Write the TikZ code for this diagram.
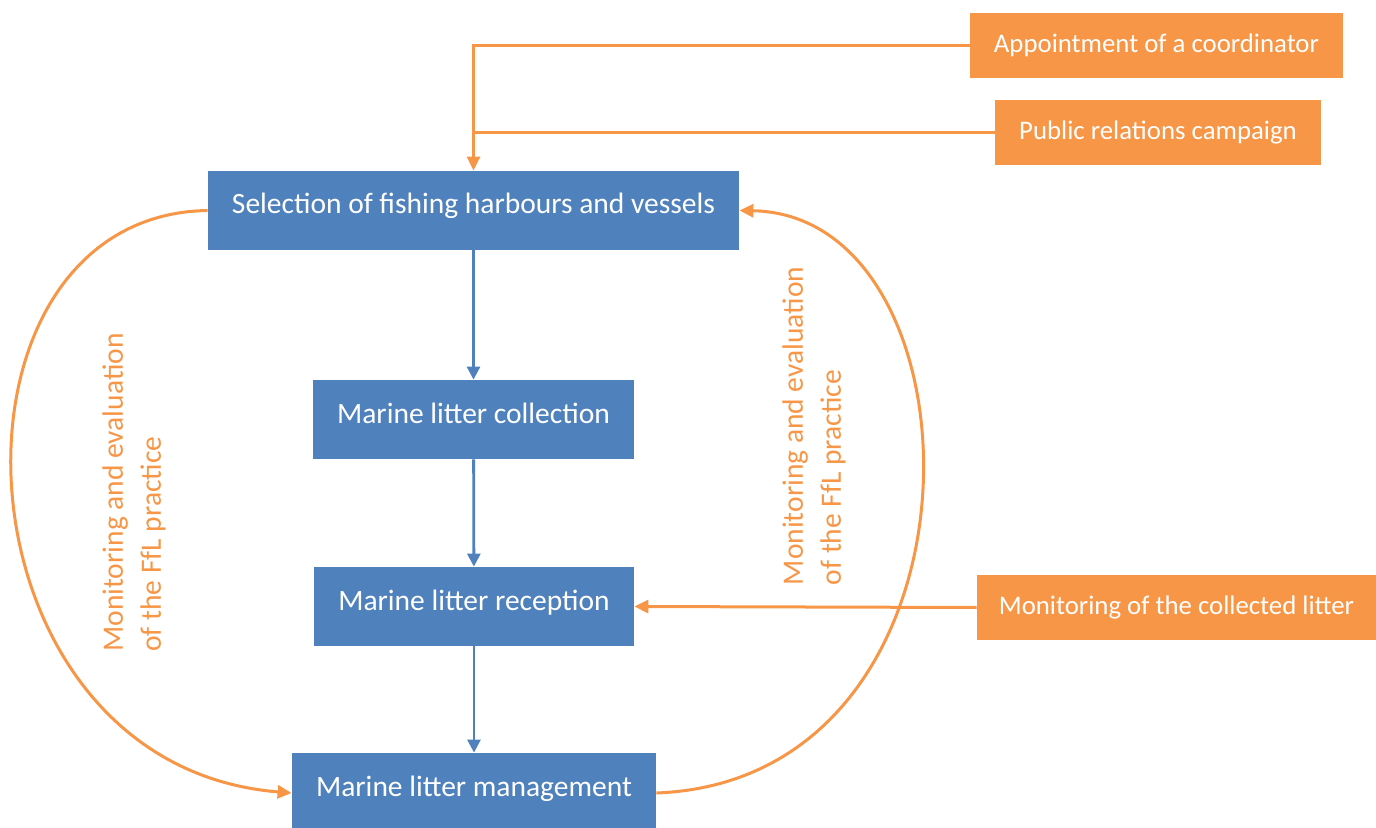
\documentclass[tikz,border=0pt]{standalone}
\usepackage{fontspec}
\setmainfont{Carlito}
\usepackage{tikz}
\usetikzlibrary{arrows.meta,positioning,calc}

\definecolor{stageblue}{HTML}{4F81BD}
\definecolor{taskorange}{HTML}{F79646}

\begin{document}
\begin{tikzpicture}[x=0.5pt, y=-0.5pt,
  every node/.style={inner sep=0pt, font=\fontsize{14.75}{19}\selectfont},
  stage/.style={fill=stageblue, text=white, minimum height=39.5pt, text height=10pt, text depth=6.5pt},
  task/.style={fill=taskorange, text=white, minimum height=32.5pt, font=\fontsize{13.4}{16}\selectfont},
  note/.style={text=taskorange, rotate=90, align=left},
  down/.style={-{Triangle[length=6.5pt, width=6.5pt]}, stageblue, line width=1.4pt},
  flow/.style={-{Triangle[length=7pt, width=6.5pt]}, taskorange, line width=1.5pt},
  link/.style={taskorange, line width=1.5pt}]

\useasboundingbox (0,0) rectangle (1376,828);

% Main stages
\node[stage, minimum width=265.5pt] (sel) at (473.5, 210.5) {Selection of fishing harbours and vessels};
\node[stage, minimum width=160.5pt] (coll) at (473.5, 419.5) {Marine litter collection};
\node[stage, minimum width=160pt] (rec) at (474, 606.5) {Marine litter reception};
\node[stage, minimum width=182pt, minimum height=40pt] (man) at (474, 793) {Marine litter management};

% Supporting tasks
\node[task, minimum width=186.5pt] (app) at (1156.5, 45.5) {Appointment of a coordinator};
\node[task, minimum width=163pt] (pr) at (1158, 132.5) {Public relations campaign};
\node[task, minimum width=199.5pt] (mon) at (1176.5, 607.5) {Monitoring of the collected litter};

% Loop labels
\node[note] (evalL) at (134, 492.5) {Monitoring and evaluation\\of the FfL practice};
\node[note] (evalR) at (814, 426) {Monitoring and evaluation\\of the FfL practice};

% Connections
\draw[down] (sel) -- (coll);
\draw[down] (coll) -- (rec);
\draw[down] (rec) -- (man);
\draw[flow] (app.west) -| (sel.north);
\draw[link] (pr.west) -- (pr.west -| sel.north);
\draw[flow] (mon.west) -- (rec.east);

% Evaluation loops
\draw[flow] (sel.west) .. controls (-75, 215) and (-55, 765) .. (man.west);
\draw[flow] (man.east) .. controls (1000, 780) and (990, 215) .. (sel.east);

\end{tikzpicture}
\end{document}
